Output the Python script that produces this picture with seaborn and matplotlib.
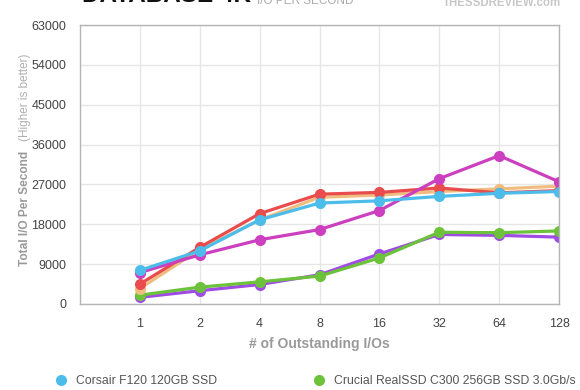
import pandas as pd
import seaborn as sns
import matplotlib.pyplot as plt
from matplotlib.lines import Line2D

# ==============================
# Data
# ==============================
queue_depths = ["1", "2", "4", "8", "16", "32", "64", "128"]

purple_iops = [1500, 3000, 4400, 6600, 11300, 15700, 15500, 15100]
green_iops = [2000, 3800, 5000, 6300, 10400, 16200, 16100, 16500]
orange_iops = [3500, 12300, 19000, 24100, 24600, 25400, 26000, 26600]
red_iops = [4500, 12800, 20400, 24800, 25200, 26200, 25100, 25600]
magenta_iops = [7100, 11100, 14500, 16800, 21100, 28300, 33500, 27600]
cyan_iops = [7600, 12000, 19000, 22800, 23300, 24300, 25000, 25400]

series_names = [
    "Intel X25-M G2 160GB SSD",
    "Crucial RealSSD C300 256GB SSD 3.0Gb/s",
    "OCZ Agility 2 120GB SSD",
    "OCZ Vertex 2 100GB SSD",
    "Kingston SSDNow V+ 128GB SSD",
    "Corsair F120 120GB SSD",
]
series_values = [purple_iops, green_iops, orange_iops, red_iops, magenta_iops, cyan_iops]
series_colors = ["#a04be6", "#6cc23a", "#f0bd80", "#e94c4c", "#cc3fbf", "#4cbdeb"]

rows = []
for name, vals in zip(series_names, series_values):
    for i, v in enumerate(vals):
        rows.append({"drive": name, "pos": i, "iops": v})
df = pd.DataFrame(rows)

# ==============================
# Style
# ==============================
sns.set_style("white")
plt.rcParams["font.family"] = ["Liberation Sans", "DejaVu Sans"]

fig = plt.figure(figsize=(5.8, 3.9), dpi=100)
ax = fig.add_axes([80 / 580, 1 - 304 / 390, (559 - 80) / 580, (304 - 25) / 390])

# draw one series at a time so the stacking order matches the picture
for name, color in zip(series_names, series_colors):
    sns.lineplot(
        data=df[df["drive"] == name], x="pos", y="iops",
        color=color, linewidth=2.3, marker="o", markersize=8,
        markeredgewidth=0, ax=ax, legend=False,
    )

ax.set_xlim(-1, len(queue_depths) - 1)
ax.set_ylim(0, 63000)
ax.set_xticks(range(len(queue_depths)))
ax.set_xticklabels(queue_depths)
ax.set_yticks(range(0, 63001, 9000))
ax.tick_params(axis="both", length=0, labelsize=9, labelcolor="#444444")
ax.tick_params(axis="x", pad=10)
ax.tick_params(axis="y", pad=10)
ax.grid(True, color="#e6e6e6", linewidth=1)
for s in ax.spines.values():
    s.set_color("#b5b5b5")
    s.set_linewidth(1)

ax.set_xlabel("# of Outstanding I/Os", fontsize=10, fontweight="bold",
              color="#999999", labelpad=5)
ax.set_ylabel("")

# y label in two parts
fig.text(25 / 580, 1 - 208 / 390, "Total I/O Per Second", rotation=90,
         ha="center", va="center", fontsize=8.6, fontweight="bold", color="#999999")
fig.text(25 / 580, 1 - 97 / 390, "(Higher is better)", rotation=90,
         ha="center", va="center", fontsize=8.5, color="#b0b0b0")

# title block (mostly cut off at the top edge)
fig.text(82 / 580, 1 - 2 / 390, "DATABASE 4K", ha="left", va="baseline",
         fontsize=17.5, fontweight="bold", color="#111111")
fig.text(257 / 580, 1 - 4 / 390, "I/O PER SECOND", ha="left", va="baseline",
         fontsize=8.5, color="#aaaaaa")
fig.text(561 / 580, 1 - 6 / 390, "THESSDREVIEW.com", ha="right", va="baseline",
         fontsize=8.3, fontweight="bold", color="#c8c8c8")

# legend: two columns, only the first row fits on the canvas
order = [5, 0, 2, 1, 3, 4]
handles = [Line2D([], [], linestyle="none", marker="o", markersize=8,
                  markeredgewidth=0, color=series_colors[i]) for i in order]
labels = [series_names[i] for i in order]
fig.legend(handles, labels, ncol=2, frameon=False, loc="upper left",
           bbox_to_anchor=(49 / 580, 1 - 375 / 390), fontsize=8.8,
           labelcolor="#555555", handletextpad=0.25, columnspacing=6.4,
           labelspacing=1.2, borderaxespad=0, borderpad=0)

fig.savefig("out.png", dpi=100)
